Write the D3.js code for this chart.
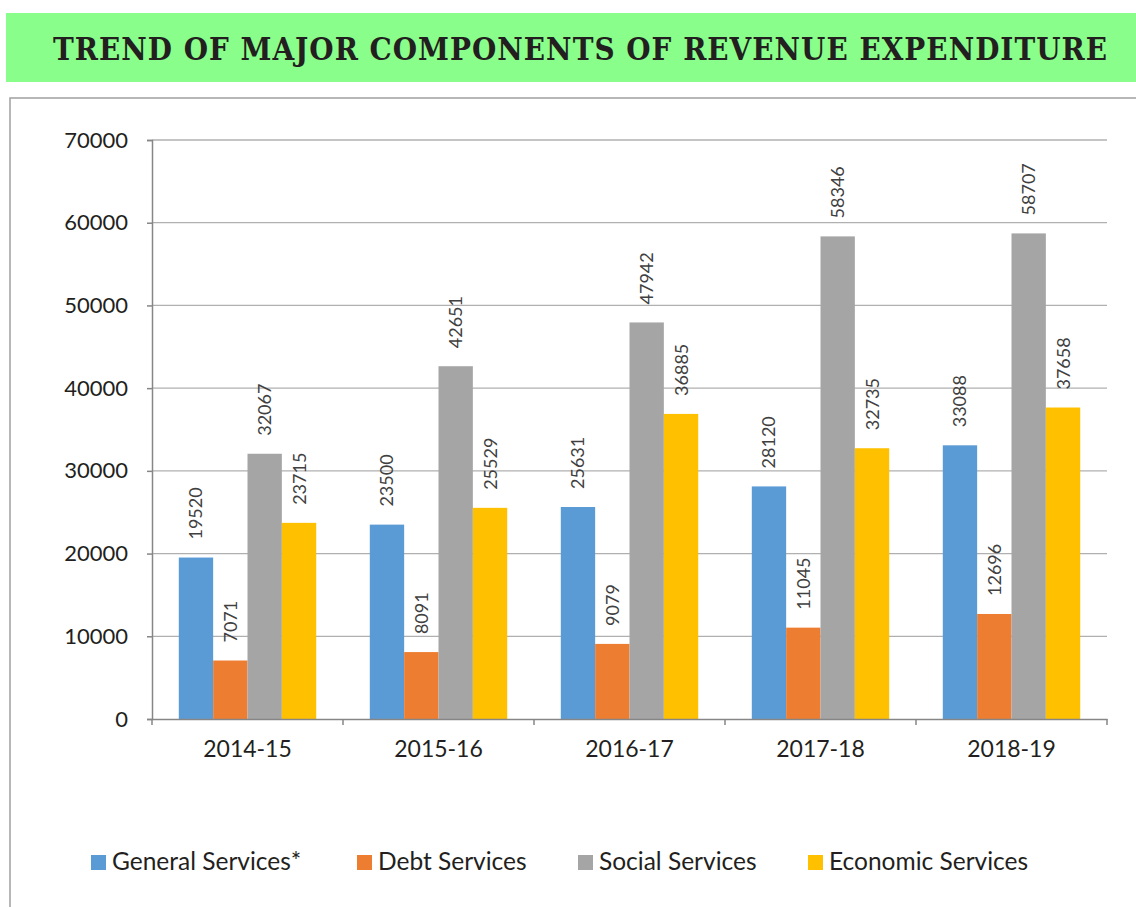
<!DOCTYPE html>
<html>
<head>
<meta charset="utf-8">
<script src="https://cdn.jsdelivr.net/npm/d3@7"></script>
<style>
  body { margin: 0; background: #fff; }
  svg { display: block; }
</style>
</head>
<body>
<svg id="vis-svg" width="1136" height="907"></svg>
<script>
// data
var years = ["2014-15", "2015-16", "2016-17", "2017-18", "2018-19"];
var seriesNames = ["General Services*", "Debt Services", "Social Services", "Economic Services"];
var generalServices = [19520, 23500, 25631, 28120, 33088];
var debtServices = [7071, 8091, 9079, 11045, 12696];
var socialServices = [32067, 42651, 47942, 58346, 58707];
var economicServices = [23715, 25529, 36885, 32735, 37658];
var yTicks = [0, 10000, 20000, 30000, 40000, 50000, 60000, 70000];

var colors = ["#5b9bd5", "#ed7d31", "#a5a5a5", "#ffc000"];
var allSeries = [generalServices, debtServices, socialServices, economicServices];

var width = 1136;
var height = 907;
var margin = { top: 140, left: 152, right: 1107, bottom: 719 };
var font = "Lato, 'Open Sans', sans-serif";

var svg = d3.select("#vis-svg");

// title banner
svg.append("rect")
  .attr("x", 6).attr("y", 13)
  .attr("width", width - 6).attr("height", 69)
  .attr("fill", "#8afe8a");

var titleText = "TREND OF MAJOR COMPONENTS OF REVENUE EXPENDITURE";
var title = svg.append("text")
  .attr("x", 53).attr("y", 60)
  .style("font-family", "'DejaVu Serif Condensed', 'DejaVu Serif', serif")
  .style("font-weight", "bold")
  .style("font-size", "31px")
  .style("fill", "#231f20")
  .text(titleText);

// fit the title to the banner: shrink if too wide, space out if too narrow
var titleW = title.node().getComputedTextLength();
if (titleW > 1054) {
  title.style("font-size", (31 * 1054 / titleW) + "px");
} else {
  title.style("letter-spacing", ((1054 - titleW) / (titleText.length - 1)) + "px");
}

// chart frame
svg.append("rect")
  .attr("x", 10).attr("y", 98)
  .attr("width", width + 20).attr("height", height)
  .attr("fill", "none")
  .attr("stroke", "#a0a0a0")
  .attr("stroke-width", 1.5);

var x = d3.scaleBand()
  .domain(years)
  .range([margin.left, margin.right]);

var x1 = d3.scaleBand()
  .domain(d3.range(seriesNames.length))
  .range([0, x.bandwidth()])
  .paddingOuter(0.78)
  .paddingInner(0);

var y = d3.scaleLinear()
  .domain([0, 70000])
  .range([margin.bottom, margin.top]);

// gridlines
svg.append("g")
  .selectAll("line")
  .data(yTicks.slice(1))
  .enter()
  .append("line")
  .attr("x1", margin.left).attr("x2", margin.right)
  .attr("y1", d => y(d)).attr("y2", d => y(d))
  .attr("stroke", "#b0b0b0")
  .attr("stroke-width", 1.3);

// bars
var groups = svg.append("g")
  .selectAll("g")
  .data(years)
  .enter()
  .append("g")
  .attr("transform", d => "translate(" + x(d) + ",0)");

groups.each(function(year, i) {
  var g = d3.select(this);
  allSeries.forEach(function(s, k) {
    g.append("rect")
      .attr("x", x1(k))
      .attr("width", x1.bandwidth())
      .attr("y", y(s[i]))
      .attr("height", y(0) - y(s[i]))
      .attr("fill", colors[k]);

    var cx = x1(k) + x1.bandwidth() / 2 + 6.5;
    var cy = y(s[i]) - 18;
    g.append("text")
      .attr("transform", "translate(" + cx + "," + cy + ") rotate(-90)")
      .style("font-family", font)
      .style("font-size", "18px")
      .style("fill", "#404040")
      .text(s[i]);
  });
});

// y axis
var yAxis = svg.append("g")
  .attr("transform", "translate(" + margin.left + ",0)")
  .call(d3.axisLeft(y).tickValues(yTicks).tickFormat(d3.format("d")).tickSize(5).tickPadding(19));
yAxis.select(".domain").attr("stroke", "#868686").attr("stroke-width", 1.5);
yAxis.selectAll(".tick line").attr("stroke", "#868686").attr("stroke-width", 1.5);
yAxis.selectAll("text")
  .style("font-family", font)
  .style("font-size", "22px")
  .style("fill", "#231f20");

// x axis
var xAxis = svg.append("g")
  .attr("transform", "translate(0," + margin.bottom + ")")
  .call(d3.axisBottom(x).tickSize(0).tickPadding(22));
xAxis.select(".domain").attr("stroke", "#868686").attr("stroke-width", 1.5);
xAxis.selectAll("text")
  .style("font-family", font)
  .style("font-size", "23px")
  .style("fill", "#231f20");

// category separator ticks
xAxis.append("g")
  .selectAll("line")
  .data(years.concat(["end"]))
  .enter()
  .append("line")
  .attr("x1", (d, i) => i < years.length ? x(d) : margin.right)
  .attr("x2", (d, i) => i < years.length ? x(d) : margin.right)
  .attr("y1", 0).attr("y2", 6)
  .attr("stroke", "#868686")
  .attr("stroke-width", 1.5);

// legend
var legendX = [91, 357, 578, 808];
var legend = svg.append("g")
  .selectAll("g")
  .data(seriesNames)
  .enter()
  .append("g")
  .attr("transform", (d, i) => "translate(" + legendX[i] + ",855)");

legend.append("rect")
  .attr("width", 15).attr("height", 15)
  .attr("fill", (d, i) => colors[i]);

legend.append("text")
  .attr("x", 21).attr("y", 15)
  .style("font-family", font)
  .style("font-size", "24.5px")
  .style("fill", "#231f20")
  .text(d => d);
</script>
</body>
</html>
